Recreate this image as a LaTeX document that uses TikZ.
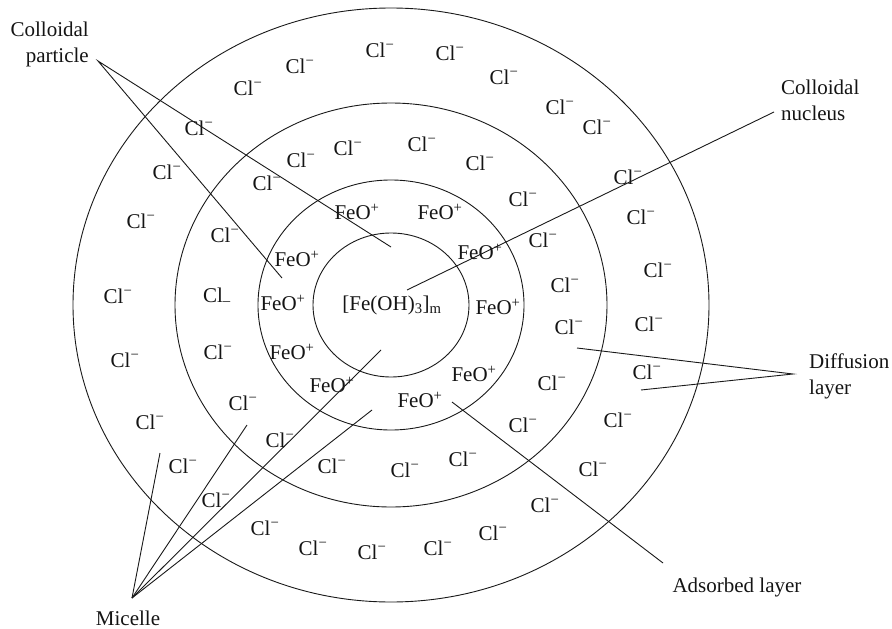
\documentclass[tikz,border=0pt]{standalone}
\usepackage{fontspec}
\setmainfont{Liberation Serif}
\newcommand\clion{Cl\textsuperscript{−}}
\newcommand\feoion{FeO\textsuperscript{+}}
\begin{document}
\begin{tikzpicture}[x=1pt,y=-1pt,
  ion/.style={font=\fontsize{21}{25}\selectfont, inner sep=0pt, text=black!92},
  lbl/.style={font=\fontsize{21}{26}\selectfont, inner sep=0pt, text=black!92},
  ring/.style={line width=0.9pt, draw=black!90},
  ptr/.style={line width=0.9pt, draw=black!90}]
\useasboundingbox (0,0) rectangle (892,629);
\coordinate (ctr) at (391,305);
% rings
\draw[ring] (ctr) ellipse [x radius=318pt, y radius=297pt];
\draw[ring] (ctr) ellipse [x radius=216pt, y radius=202pt];
\draw[ring] (ctr) ellipse [x radius=133pt, y radius=125pt];
\draw[ring] (ctr) ellipse [x radius=78pt, y radius=72pt];
% nucleus
\node[ion] (nuc) at (392,305) {[Fe(OH)\textsubscript{3}]\textsubscript{m}};
% outer ring ions
\foreach \p [count=\i] in {(380,50),(450,53),(504,77),(560,107),(597,127),(300,66),(248,88),(199,128),(167,172),(141,221),(118,296),(125,360),(150,422),(183,466),(216,500),(265,528),(313,548),(372,552),(438,548),(493,533),(545,505),(593,469),(618,420),(647,372),(649,324),(658,270),(641,217),(628,177)}
  \node[ion] (c\i) at \p {\clion};
% middle ring ions
\foreach \p [count=\i] in {(301,160),(348,148),(422,144),(480,163),(523,199),(543,240),(565,285),(569,327),(552,383),(523,425),(463,459),(405,470),(332,466),(280,440),(243,403),(218,352),(225,235),(267,183)}
  \node[ion] (m\i) at \p {\clion};
\node[ion] (mlow) at (217,297) {Cl\textsubscript{–}};
% adsorbed ions
\foreach \p [count=\i] in {(357,212),(440,212),(480,252),(498,307),(474,374),(420,400),(332,385),(292,352),(283,303),(297,259)}
  \node[ion] (f\i) at \p {\feoion};
% labels
\node[lbl, align=right, anchor=east] (lpart) at (89,44) {Colloidal\\particle};
\node[lbl, align=left, anchor=west] (lnuc) at (781,100) {Colloidal\\nucleus};
\node[lbl, align=left, anchor=west] (ldiff) at (809,376) {Diffusion\\layer};
\node[lbl] (lads) at (737,587) {Adsorbed layer};
\node[lbl] (lmic) at (128,618) {Micelle};
% pointer coordinates
\coordinate (pA) at (98,61);
\coordinate (pA1) at (391,247);
\coordinate (pA2) at (282,278);
\coordinate (pN) at (774,112);
\coordinate (pN1) at (407,290);
\coordinate (pD) at (793,374);
\coordinate (pD1) at (577,348);
\coordinate (pD2) at (641,390);
\coordinate (pS) at (663,563);
\coordinate (pS1) at (452,402);
\coordinate (pM) at (132,598);
\coordinate (pM1) at (160,453);
\coordinate (pM2) at (247,425);
\coordinate (pM3) at (381,350);
\coordinate (pM4) at (372,410);
% pointers
\draw[ptr] (pA1) -- (pA) -- (pA2);
\draw[ptr] (pN) -- (pN1);
\draw[ptr] (pD1) -- (pD) -- (pD2);
\draw[ptr] (pS) -- (pS1);
\draw[ptr] (pM) -- (pM1);
\draw[ptr] (pM) -- (pM2);
\draw[ptr] (pM) -- (pM3);
\draw[ptr] (pM) -- (pM4);
\end{tikzpicture}
\end{document}
